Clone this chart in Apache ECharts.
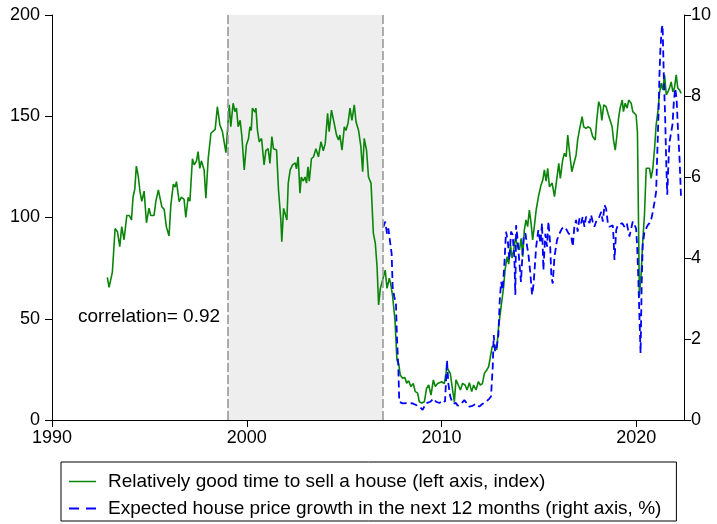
<!DOCTYPE html>
<html>
<head>
<meta charset="utf-8">
<script src="https://cdn.jsdelivr.net/npm/echarts@6/dist/echarts.min.js"></script>
<style>
html,body{margin:0;padding:0;background:#fff;}
#chart{width:717px;height:524px;}
</style>
</head>
<body>
<div id="chart"></div>
<script>
// Relatively good time to sell a house (left axis, index)
const greenYears = [1992.84,1992.93,1993.10,1993.24,1993.36,1993.48,1993.58,1993.70,1993.84,1993.97,1994.08,1994.16,1994.25,1994.33,1994.42,1994.52,1994.61,1994.73,1994.85,1994.98,1995.07,1995.24,1995.33,1995.46,1995.64,1995.76,1995.87,1996.01,1996.10,1996.23,1996.32,1996.39,1996.53,1996.64,1996.78,1996.87,1996.99,1997.08,1997.21,1997.30,1997.42,1997.50,1997.59,1997.67,1997.81,1997.90,1998.02,1998.16,1998.24,1998.38,1998.49,1998.62,1998.75,1998.93,
1999.10,1999.18,1999.30,1999.39,1999.47,1999.56,1999.66,1999.75,1999.87,1999.98,2000.09,2000.16,2000.23,2000.29,2000.42,2000.47,2000.55,2000.64,2000.76,2000.89,2000.98,2001.10,2001.19,2001.29,2001.37,2001.53,2001.63,2001.75,2001.80,2001.89,2001.97,2002.06,2002.13,2002.23,2002.35,2002.49,2002.55,2002.64,2002.73,2002.80,2002.90,2002.99,2003.07,2003.14,2003.21,2003.32,2003.43,2003.55,2003.68,2003.81,2003.93,2004.03,2004.15,2004.23,2004.35,2004.49,2004.61,2004.71,2004.78,2004.89,2005.01,2005.09,2005.20,2005.30,2005.40,2005.52,2005.61,2005.74,2005.86,2005.95,2006.03,2006.15,2006.25,2006.38,2006.50,2006.60,2006.69,2006.77,2006.86,2006.94,
2007.11,2007.20,2007.32,2007.40,2007.49,2007.61,2007.71,2007.80,2007.88,2008.00,2008.12,2008.21,2008.31,2008.43,2008.55,2008.65,2008.77,2008.86,2008.98,2009.12,2009.23,2009.34,2009.46,2009.58,2009.68,2009.80,2009.89,2010.01,2010.14,2010.23,2010.28,2010.35,2010.45,2010.57,2010.66,2010.74,2010.83,2010.97,2011.08,
2011.21,2011.31,2011.43,2011.55,2011.65,2011.77,2011.89,2011.99,2012.10,2012.20,2012.32,2012.42,2012.51,2012.60,2012.71,2012.83,2012.93,2013.06,2013.19,2013.26,2013.37,2013.45,2013.54,2013.62,2013.71,2013.79,2013.91,2014.00,2014.09,2014.17,2014.25,2014.34,2014.42,2014.51,2014.60,2014.68,2014.77,2014.86,
2014.99,2015.11,2015.20,2015.28,2015.37,2015.45,2015.54,2015.68,2015.80,2015.91,2016.02,2016.10,2016.22,2016.31,2016.40,2016.48,2016.60,2016.69,2016.79,2016.91,2016.99,2017.08,2017.22,2017.30,2017.42,2017.54,2017.65,2017.76,2017.89,2017.97,2018.07,2018.16,2018.23,2018.33,2018.45,2018.57,2018.67,2018.76,2018.83,2018.92,2019.00,2019.09,2019.17,2019.28,2019.34,2019.43,2019.53,2019.61,
2019.74,2019.82,2019.91,2019.99,2020.06,2020.16,2020.25,2020.33,2020.42,2020.51,2020.59,2020.68,2020.76,2020.85,2020.94,2021.02,2021.11,2021.19,2021.28,2021.36,2021.45,2021.54,2021.62,2021.71,2021.79,2021.88,2021.96,2022.05,2022.13,2022.22,2022.30];
const greenValues = [70.4,65.5,73,94.6,93,85.6,95.5,89,101,101,98.8,110,114,125.4,121,112.7,108,113,97.4,104.6,101,101,107.8,113.6,105.3,104,95.5,90.9,106,116.5,115,117.7,107.8,110,109,100,110,108,129,126,128,132.5,124.3,128,123.5,109.5,129,141.6,142.4,143.5,154.7,145.7,142.4,132,
155.6,144.8,156.4,152.3,154,144.8,148,140,123.5,135.8,139,144.8,143,154,152,154,143,137.4,139,126,133,134,126.7,140,134,133.3,113.6,98.8,88,104.5,105.3,98.8,117,123.5,126,127,124,130,112,120,118,120,117,125,118,129,130,134,130,137.4,133,136.6,151.4,142.4,153,146.5,140.7,138.3,140.7,133.3,144.8,143,146.5,154,148,155.6,147.3,143,135,122.6,139,133.3,120,117,92.2,87.3,75.7,56.8,65,65.3,
74,65,70,66.7,61,49.4,29.6,28,22.2,20.6,21,18.1,19.4,16.5,18,14,13.4,9,8.4,9,15.6,17.3,12.3,19.8,16.5,18,17.3,18.9,18,23,26.3,24.7,23,14.8,9,19.8,18,14.8,18.1,
17.3,14.8,18.4,14,17.3,14.8,18.9,17.3,18,23,24.7,26.3,27.2,36.2,37,34.6,46,56,65.8,74,80.7,77,86.4,80,84,89.7,86,84,89.7,80.7,93.8,98.8,95.5,103.7,97,88.9,96,103.7,
111,116,118.5,123.5,118,124.3,115.2,117,110.3,118.5,126.7,119.3,128.4,131.7,130,140.7,130,122.6,122.6,130.9,138.3,143.2,149.8,144.8,144,144.8,144,140,138.3,148,157.2,154.7,148,155.6,154.7,150.6,150,144.8,138.3,133.3,140,149,154,158,152.3,156.4,154,158,
156.4,152.3,151.5,150.6,142,60.9,72.4,88,101.2,124.3,124.7,124.3,119.3,124.3,134.2,145.7,152.3,161.3,166.3,163,170.4,160.5,162,164,167,162,164,170.4,164,163,161.3];

// Expected house price growth in the next 12 months (right axis, %)
const blueYears = [2007.02,2007.11,2007.20,2007.27,2007.35,2007.44,2007.49,2007.57,2007.66,2007.71,2007.78,2007.83,2008.00,2008.26,2008.51,2008.69,2008.86,2009.03,2009.20,2009.42,2009.59,2009.72,2009.89,2010.06,2010.18,2010.28,2010.35,2010.45,2010.57,2010.74,2010.83,2011.00,2011.17,2011.31,2011.43,2011.60,2011.77,2011.94,2012.11,2012.29,2012.46,2012.54,2012.63,2012.68,2012.75,2012.83,2012.92,2012.99,2013.06,2013.14,2013.23,2013.31,2013.40,2013.48,2013.57,2013.65,2013.74,2013.79,2013.83,2013.91,2014.00,2014.08,2014.15,2014.22,2014.31,2014.39,2014.46,2014.56,2014.65,2014.73,2014.86,2014.97,2015.08,2015.16,2015.23,2015.33,2015.42,2015.49,2015.57,2015.64,2015.71,2015.80,2015.86,2015.93,2016.05,2016.19,2016.31,2016.43,2016.53,2016.65,2016.74,2016.82,2016.91,2016.99,2017.08,2017.17,2017.25,2017.34,2017.42,2017.51,2017.60,2017.68,2017.76,2017.85,2017.94,2018.07,2018.20,2018.28,2018.37,2018.45,2018.54,2018.62,2018.71,2018.79,2018.83,2018.88,2018.97,2019.05,2019.14,2019.28,2019.39,2019.51,2019.61,2019.65,2019.74,2019.82,2019.91,2019.99,2020.05,2020.11,2020.16,2020.22,2020.28,2020.33,2020.42,2020.51,2020.59,2020.68,2020.76,2020.85,2020.94,2021.02,2021.07,2021.14,2021.19,2021.24,2021.31,2021.35,2021.42,2021.48,2021.54,2021.59,2021.66,2021.71,2021.79,2021.86,2021.93,2022.00,2022.07,2022.13,2022.22,2022.30];
const blueValues = [4.77,4.9,4.6,4.73,4.69,4.1,3.29,3.05,2.88,2.06,1.32,0.45,0.41,0.42,0.41,0.37,0.33,0.25,0.41,0.45,0.53,0.45,0.42,0.49,0.45,1.48,0.9,0.58,0.41,0.42,0.35,0.4,0.49,0.41,0.33,0.35,0.4,0.33,0.4,0.45,0.53,0.58,1.32,2.1,1.69,1.77,2.1,2.96,3.41,3.21,3.87,4.65,4.44,3.95,4.65,4.57,4.03,3.09,4.81,4.44,3.87,3.41,4.03,4.53,4.61,4.3,4.1,3.62,3.09,3.37,4.28,4.69,4.36,4.86,3.7,4.6,4.28,4.9,4.4,3.54,3.37,4.03,4.03,4.44,4.6,4.73,4.77,4.69,4.6,4.57,4.28,4.77,4.94,4.65,4.98,4.86,5.02,4.77,5.02,4.94,4.86,5.06,4.9,4.77,4.9,4.98,5.14,4.9,5.31,5.22,4.86,4.77,4.73,4.81,4.53,3.95,4.69,4.81,4.77,4.86,4.77,4.86,4.9,4.53,4.73,4.9,4.86,4.73,4.24,3.41,2.59,1.65,3.41,4.32,4.65,4.73,4.81,4.86,4.94,5.14,5.39,5.64,6.46,7.53,8.52,9.18,9.67,9.75,8.35,7.53,6.3,5.56,6.46,6.87,6.87,7.3,7.86,8.19,7.93,7.28,6.46,5.47];

const recessionStart = 1999;
const recessionEnd = 2007;
const xTicks = [1990, 2000, 2010, 2020];
const leftTicks = [0, 50, 100, 150, 200];
const rightTicks = [0, 2, 4, 6, 8, 10];
const greenName = 'Relatively good time to sell a house (left axis, index)';
const blueName = 'Expected house price growth in the next 12 months (right axis, %)';
const noteText = 'correlation= 0.92';

const greenData = greenYears.map((y, i) => [y, greenValues[i]]);
const blueData = blueYears.map((y, i) => [y, blueValues[i]]);

const FONT = 'Liberation Sans, Arial, sans-serif';
const chart = echarts.init(document.getElementById('chart'));
chart.setOption({
  animation: false,
  backgroundColor: '#ffffff',
  grid: { left: 52, right: 33, top: 15, bottom: 104, containLabel: false },
  xAxis: {
    type: 'value', min: 1990, max: 2022.45, interval: 10,
    axisLine: { show: true, onZero: false, lineStyle: { color: '#000', width: 1 } },
    axisTick: { show: true, length: 7, lineStyle: { color: '#000' } },
    axisLabel: { color: '#000', fontSize: 18, fontFamily: FONT, margin: 9,
      showMaxLabel: false,
      formatter: v => xTicks.includes(Math.round(v)) && Math.abs(v - Math.round(v)) < 1e-6 ? String(Math.round(v)) : '' },
    splitLine: { show: false }
  },
  yAxis: [
    { type: 'value', min: 0, max: 200, interval: 50, position: 'left',
      axisLine: { show: true, lineStyle: { color: '#000', width: 1 } },
      axisTick: { show: true, length: 7, lineStyle: { color: '#000' } },
      axisLabel: { color: '#000', fontSize: 18, fontFamily: FONT, margin: 12,
        formatter: v => leftTicks.includes(v) ? String(v) : '' },
      splitLine: { show: false } },
    { type: 'value', min: 0, max: 10, interval: 2, position: 'right',
      axisLine: { show: true, lineStyle: { color: '#000', width: 1 } },
      axisTick: { show: true, length: 7, lineStyle: { color: '#000' } },
      axisLabel: { color: '#000', fontSize: 18, fontFamily: FONT, margin: 7,
        formatter: v => rightTicks.includes(v) ? String(v) : '' },
      splitLine: { show: false } }
  ],
  legend: {
    orient: 'vertical', left: 61, top: 462, height: 60,
    padding: [10, 15, 3, 8], itemGap: 8, itemWidth: 27, itemHeight: 12,
    borderColor: '#000', borderWidth: 1,
    textStyle: { color: '#000', fontSize: 19, fontFamily: FONT, padding: [0, 0, 0, 7] },
    data: [
      { name: greenName, icon: 'path://M0,5 L27,5 L27,6.5 L0,6.5 Z' },
      { name: blueName, icon: 'path://M0,5 L10,5 L10,6.8 L0,6.8 Z M17,5 L27,5 L27,6.8 L17,6.8 Z' }
    ]
  },
  graphic: [
    { type: 'text', left: 78, top: 307, style: { text: noteText, fill: '#000', fontSize: 19, fontFamily: FONT } }
  ],
  series: [
    {
      name: greenName, type: 'line', yAxisIndex: 0, data: greenData,
      showSymbol: false, symbol: 'none', z: 3,
      lineStyle: { color: '#0a850a', width: 1.6 },
      itemStyle: { color: '#0a850a' },
      markArea: { silent: true, itemStyle: { color: '#eeeeee' }, z: 1,
        data: [[{ xAxis: recessionStart }, { xAxis: recessionEnd }]] },
      markLine: { silent: true, symbol: 'none', label: { show: false },
        lineStyle: { color: '#9a9a9a', type: [9, 3], width: 1.6 },
        data: [{ xAxis: recessionStart }, { xAxis: recessionEnd }] }
    },
    {
      name: blueName, type: 'line', yAxisIndex: 1, data: blueData,
      showSymbol: false, symbol: 'none', z: 4,
      lineStyle: { color: '#0000ff', width: 1.8, type: [7, 4] },
      itemStyle: { color: '#0000ff' }
    }
  ]
});
</script>
</body>
</html>
